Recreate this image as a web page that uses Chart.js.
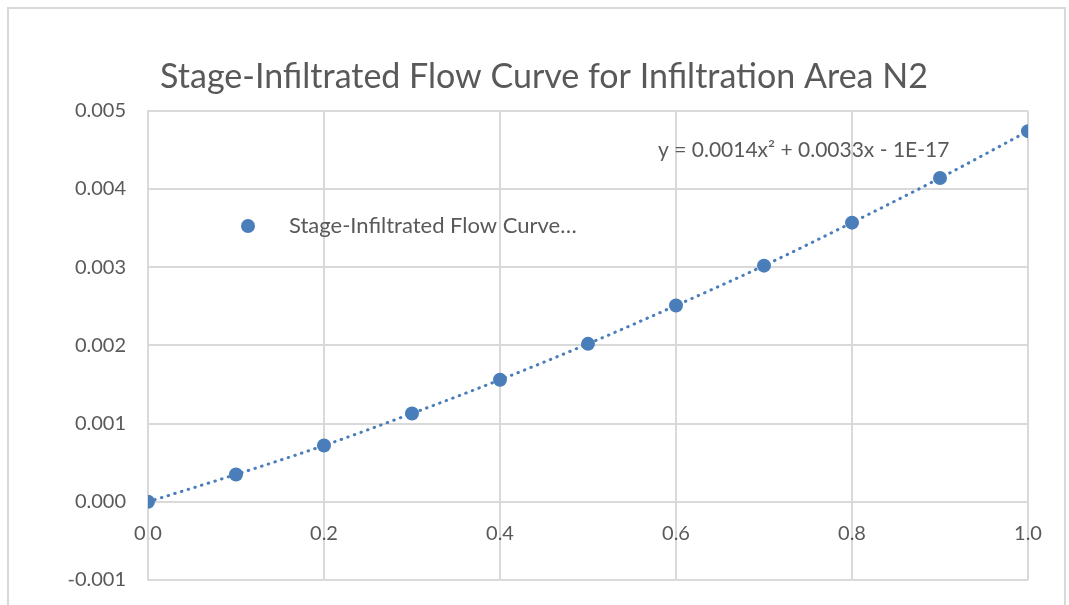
<!DOCTYPE html>
<html>
<head>
<meta charset="utf-8">
<script src="https://cdn.jsdelivr.net/npm/chart.js@4"></script>
<style>
  body { margin: 0; background: #fff; }
  #wrap { position: relative; width: 1069px; height: 605px; overflow: hidden; }
  #frame { position: absolute; left: 7px; top: 7px; width: 1059px; height: 620px; border: 2px solid #d9d9d9; box-sizing: border-box; }
  canvas { position: absolute; left: 0; top: 0; }
</style>
</head>
<body>
<div id="wrap">
  <div id="frame"></div>
  <canvas id="chart" width="1069" height="605"></canvas>
</div>
<script>
// --- Data ---
const stage = [0.0, 0.1, 0.2, 0.3, 0.4, 0.5, 0.6, 0.7, 0.8, 0.9, 1.0];
const flow = [0.0, 0.00035, 0.00072, 0.00113, 0.00156, 0.00202, 0.00251, 0.00302, 0.00357, 0.00414, 0.00474];
const titleText = "Stage-Infiltrated Flow Curve for Infiltration Area N2";
const legendText = "Stage-Infiltrated Flow Curve…";
const equationText = "y = 0.0014x² + 0.0033x - 1E-17";

const FONT = "Lato, 'Open Sans', sans-serif";
const TEXT = "#595959";
const GRID = "#d9d9d9";
const BLUE = "#4a7ebb";

const points = stage.map((x, i) => ({ x, y: flow[i] }));

// legend + trendline label drawn inside the plot
const annotations = {
  id: "annotations",
  afterDraw(chart) {
    const ctx = chart.ctx;
    ctx.save();
    ctx.fillStyle = BLUE;
    ctx.beginPath();
    ctx.arc(248, 226, 7, 0, Math.PI * 2);
    ctx.fill();
    ctx.fillStyle = TEXT;
    ctx.textBaseline = "middle";
    ctx.font = "22px " + FONT;
    ctx.fillText(legendText, 289, 226);
    ctx.font = "21px " + FONT;
    ctx.fillText(equationText, 658, 150);
    ctx.restore();
  },
};

new Chart(document.getElementById("chart"), {
  type: "scatter",
  data: {
    datasets: [
      {
        label: "trend",
        data: points,
        showLine: true,
        pointRadius: 0,
        borderColor: BLUE,
        borderWidth: 3,
        borderDash: [0.5, 6.5],
        borderCapStyle: "round",
        cubicInterpolationMode: "monotone",
        order: 0,
      },
      {
        label: legendText,
        data: points,
        pointRadius: 7,
        pointHoverRadius: 7,
        backgroundColor: BLUE,
        borderColor: BLUE,
        borderWidth: 0,
        order: 1,
      },
    ],
  },
  options: {
    responsive: false,
    animation: false,
    layout: { padding: { top: 0, left: 60, right: 41, bottom: 25 } },
    plugins: {
      legend: { display: false },
      tooltip: { enabled: false },
      title: {
        display: true,
        text: titleText,
        color: TEXT,
        font: { family: FONT, size: 34, weight: "normal" },
        padding: { top: 57, bottom: 13 },
      },
    },
    scales: {
      x: {
        type: "linear",
        position: { y: 0 },
        min: 0,
        max: 1,
        ticks: {
          stepSize: 0.2,
          padding: 20,
          color: TEXT,
          font: { family: FONT, size: 20 },
          callback: (v) => v.toFixed(1),
        },
        grid: { color: GRID, lineWidth: 2, drawTicks: false },
        border: { color: GRID, width: 2 },
      },
      y: {
        min: -0.001,
        max: 0.005,
        ticks: {
          stepSize: 0.001,
          padding: 22,
          color: TEXT,
          font: { family: FONT, size: 20 },
          callback: (v) => v.toFixed(3),
        },
        grid: { color: GRID, lineWidth: 2, drawTicks: false },
        border: { color: GRID, width: 2 },
        afterFit: (scale) => {
          scale.width = 88;
          scale.paddingTop = 0;
          scale.paddingBottom = 0;
        },
      },
    },
  },
  plugins: [annotations],
});
</script>
</body>
</html>
